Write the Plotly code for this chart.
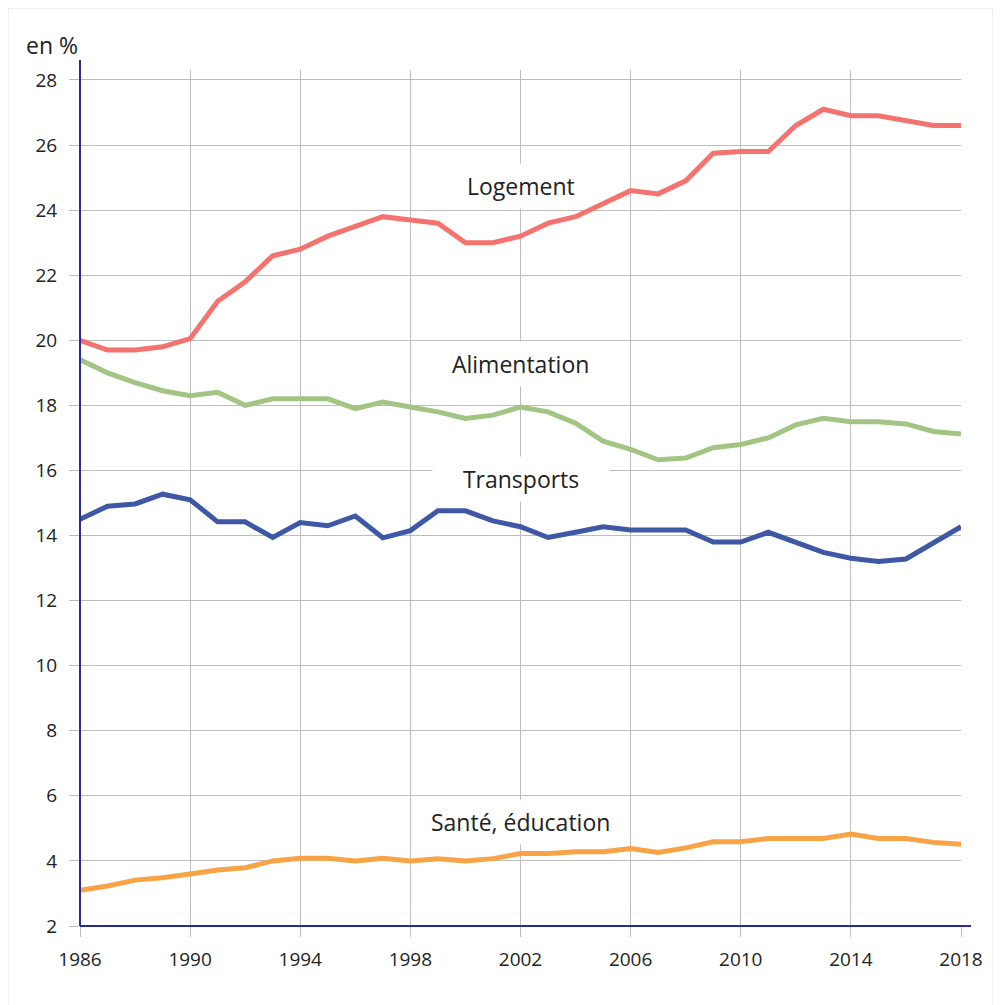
import plotly.graph_objects as go

years = list(range(1986, 2019))

logement = [20.0, 19.7, 19.7, 19.8, 20.05, 21.2, 21.8, 22.6, 22.8, 23.2, 23.5, 23.8, 23.7, 23.6,
            23.0, 23.0, 23.2, 23.6, 23.8, 24.2, 24.6, 24.5, 24.9, 25.75, 25.8, 25.8, 26.6, 27.1,
            26.9, 26.9, 26.75, 26.6, 26.6]
alimentation = [19.4, 19.0, 18.7, 18.45, 18.3, 18.4, 18.0, 18.2, 18.2, 18.2, 17.9, 18.1, 17.95, 17.8,
                17.6, 17.7, 17.95, 17.8, 17.45, 16.9, 16.65, 16.33, 16.38, 16.7, 16.8, 17.0, 17.4, 17.6,
                17.5, 17.5, 17.43, 17.2, 17.12]
transports = [14.5, 14.9, 14.97, 15.27, 15.1, 14.42, 14.42, 13.94, 14.4, 14.3, 14.6, 13.93, 14.15, 14.76,
              14.76, 14.45, 14.27, 13.94, 14.1, 14.27, 14.17, 14.17, 14.17, 13.8, 13.8, 14.1, 13.8, 13.48,
              13.3, 13.2, 13.28, 13.76, 14.27]
sante = [3.1, 3.23, 3.41, 3.48, 3.6, 3.72, 3.79, 4.0, 4.08, 4.08, 4.0, 4.08, 4.0, 4.07,
         4.0, 4.07, 4.23, 4.23, 4.28, 4.28, 4.38, 4.26, 4.4, 4.59, 4.59, 4.69, 4.69, 4.69,
         4.83, 4.69, 4.69, 4.57, 4.51]

series = [
    ("Logement", logement, "#f4736e", 24.74, 1),
    ("Alimentation", alimentation, "#a3c584", 19.27, 2),
    ("Transports", transports, "#3f58a6", 15.74, 4),
    ("Santé, éducation", sante, "#f8a446", 5.2, 1),
]

x_ticks = list(range(1986, 2019, 4))
y_ticks = list(range(2, 29, 2))

FONT = "Open Sans"
fig = go.Figure()
for name, vals, color, _, _ in series:
    fig.add_trace(go.Scatter(x=years, y=vals, mode="lines", name=name,
                             line=dict(color=color, width=5), hoverinfo="x+y+name"))

annotations = []
for name, vals, color, ypos, pad in series:
    sp = "\u00a0" * pad
    annotations.append(dict(x=2002, y=ypos, xref="x", yref="y", text=sp + name + sp,
                            showarrow=False, font=dict(family=FONT, size=23, color="#222222"),
                            bgcolor="white", borderpad=6))
annotations.append(dict(x=-0.063, y=1.029, xref="paper", yref="paper", text="en %", showarrow=False,
                        xanchor="left", yanchor="middle", font=dict(family=FONT, size=23, color="#222222")))

fig.update_layout(
    width=993, height=997,
    margin=dict(l=72, r=40, t=62, b=79, autoexpand=False),
    paper_bgcolor="#f3f3f3",
    plot_bgcolor="rgba(0,0,0,0)",
    showlegend=False,
    annotations=annotations,
    font=dict(family=FONT, color="#222222"),
    shapes=[
        dict(type="rect", xref="paper", yref="paper", x0=-0.0817, x1=1.0363, y0=-0.1, y1=1.0724,
             fillcolor="white", line=dict(color="#e2e2e2", width=1), layer="below"),
        dict(type="line", xref="paper", yref="paper", x0=0, x1=1.0114, y0=0, y1=0,
             line=dict(color="#2b2b96", width=2), layer="above"),
        dict(type="line", xref="paper", yref="paper", x0=0, x1=0, y0=0, y1=1.0117,
             line=dict(color="#2b2b96", width=2), layer="above"),
    ],
)
fig.update_xaxes(range=[1986, 2018], tickvals=x_ticks, ticktext=[str(v) for v in x_ticks],
                 showgrid=True, gridcolor="#bdbdbd", gridwidth=1, zeroline=False, showline=False,
                 ticks="outside", ticklen=10, tickcolor="#bdbdbd", ticklabelstandoff=6,
                 tickfont=dict(family=FONT, size=19, color="#222222"), fixedrange=True)
fig.update_yaxes(range=[2, 28.307], tickvals=y_ticks, ticktext=[str(v) for v in y_ticks],
                 showgrid=True, gridcolor="#bdbdbd", gridwidth=1, zeroline=False, showline=False,
                 ticks="outside", ticklen=10, tickcolor="#bdbdbd", ticklabelstandoff=8,
                 tickfont=dict(family=FONT, size=19, color="#222222"), fixedrange=True)

fig.write_html("out.html")
